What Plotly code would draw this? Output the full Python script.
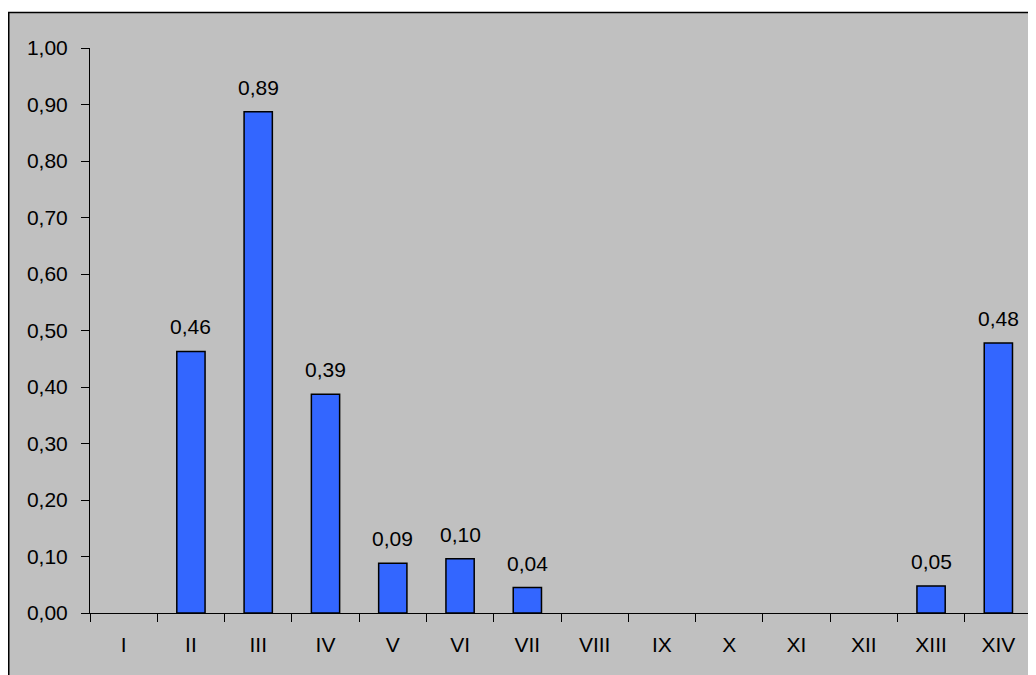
import plotly.graph_objects as go

categories = ["I", "II", "III", "IV", "V", "VI", "VII", "VIII", "IX", "X", "XI", "XII", "XIII", "XIV"]
values = [0, 0.463, 0.887, 0.387, 0.088, 0.096, 0.045, 0, 0, 0, 0, 0, 0.048, 0.478]
y_ticks = [0, 0.1, 0.2, 0.3, 0.4, 0.5, 0.6, 0.7, 0.8, 0.9, 1.0]
y_tick_labels = ["0,00", "0,10", "0,20", "0,30", "0,40", "0,50", "0,60", "0,70", "0,80", "0,90", "1,00"]

FONT = "Liberation Sans, Arial"
FS = 21
plot_values = [v if v > 0 else None for v in values]

# figure sits at (8,8) in the page because of the default body margin
W, H = 1028, 667
ml, mr, mt, mb = 82, 4, 40, 62
pw, ph = W - ml - mr, H - mt - mb

fig = go.Figure()
fig.add_trace(go.Bar(
    x=categories, y=plot_values,
    marker=dict(color="#3366FF", line=dict(color="black", width=1.5)),
    width=0.42,
))

for c, v in zip(categories, values):
    if v > 0:
        fig.add_annotation(
            x=c, y=v, text=("%.2f" % v).replace(".", ","),
            showarrow=False, yanchor="bottom", yshift=11,
            font=dict(family=FONT, size=FS, color="black"),
        )

fig.add_shape(type="rect", xref="paper", yref="paper",
              x0=(0.75 - ml) / pw, x1=(W + 10 - ml) / pw,
              y0=-(mb + 10) / ph, y1=(H - 4.5 - mb) / ph,
              fillcolor="#C0C0C0", line=dict(color="black", width=1.5), layer="below")

fig.update_layout(
    width=W, height=H,
    margin=dict(l=ml, r=mr, t=mt, b=mb),
    paper_bgcolor="white", plot_bgcolor="#C0C0C0",
    showlegend=False,
    font=dict(family=FONT, size=FS, color="black"),
)
fig.update_xaxes(
    type="category", showgrid=False, showline=True, linecolor="black", linewidth=1,
    ticks="outside", tickson="boundaries", ticklen=8, tickcolor="black",
    tickfont=dict(size=FS), range=[-0.5, 13.5], ticklabelstandoff=13,
)
fig.update_yaxes(
    range=[0, 1.0], tickvals=y_ticks, ticktext=y_tick_labels,
    showgrid=False, zeroline=False, showline=True, linecolor="black", linewidth=1,
    ticks="outside", ticklen=8, tickcolor="black", tickfont=dict(size=FS),
    ticklabelstandoff=9,
)

fig.write_html("out.html")
